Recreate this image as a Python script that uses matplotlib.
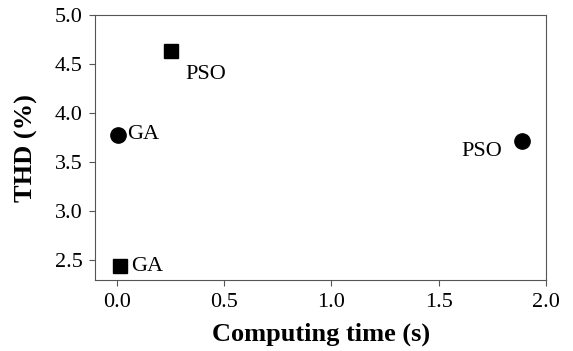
import matplotlib
matplotlib.use("Agg")
import matplotlib.pyplot as plt

plt.rcParams["font.family"] = "Liberation Serif"

# data
square_time = [0.015, 0.255]
square_thd = [2.44, 4.633]
square_labels = ["GA", "PSO"]

circle_time = [0.005, 1.886]
circle_thd = [3.78, 3.72]
circle_labels = ["GA", "PSO"]

fig = plt.figure(figsize=(5.73, 3.51), dpi=100)
ax = fig.add_axes([0.166, 0.202, 0.787, 0.755])

ax.plot(square_time, square_thd, "s", color="black", markersize=10, linestyle="none")
ax.plot(circle_time, circle_thd, "o", color="black", markersize=11, linestyle="none")

# point labels
ax.annotate(square_labels[0], (square_time[0], square_thd[0]), xytext=(8, 0),
            textcoords="offset points", va="center", ha="left", fontsize=16)
ax.annotate(square_labels[1], (square_time[1], square_thd[1]), xytext=(10, -17),
            textcoords="offset points", va="center", ha="left", fontsize=16)
ax.annotate(circle_labels[0], (circle_time[0], circle_thd[0]), xytext=(7, 0),
            textcoords="offset points", va="center", ha="left", fontsize=16)
ax.annotate(circle_labels[1], (circle_time[1], circle_thd[1]), xytext=(-14, -8),
            textcoords="offset points", va="center", ha="right", fontsize=16)

ax.set_xlim(-0.1, 2.0)
ax.set_ylim(2.3, 5.0)
ax.set_xticks([0.0, 0.5, 1.0, 1.5, 2.0])
ax.set_yticks([2.5, 3.0, 3.5, 4.0, 4.5, 5.0])
ax.xaxis.set_major_formatter(matplotlib.ticker.FormatStrFormatter("%.1f"))
ax.yaxis.set_major_formatter(matplotlib.ticker.FormatStrFormatter("%.1f"))
ax.tick_params(labelsize=16, direction="out", length=4, pad=5, color="#555555")

for s in ax.spines.values():
    s.set_color("#555555")

ax.set_xlabel("Computing time (s)", fontsize=19, fontweight="bold", labelpad=8)
ax.set_ylabel("THD (%)", fontsize=19, fontweight="bold", labelpad=12)

fig.savefig("out.png", dpi=100)
